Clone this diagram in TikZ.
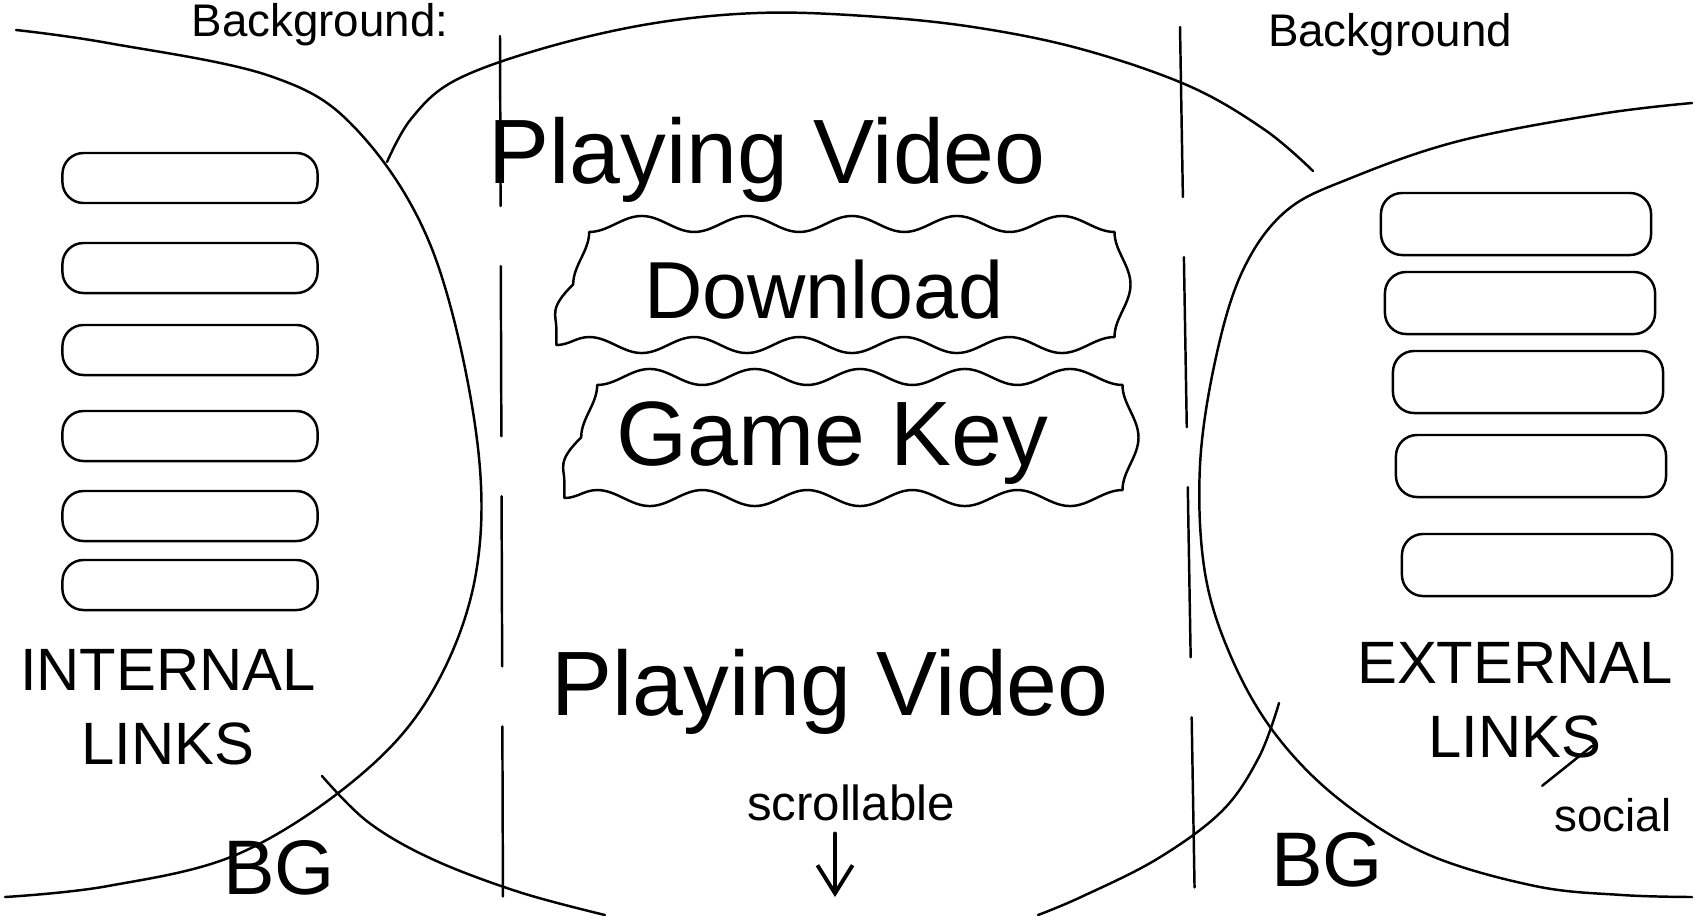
\documentclass[tikz,border=0pt]{standalone}
\usepackage{fontspec}
\setmainfont{Liberation Sans}
\usetikzlibrary{arrows.meta,positioning,decorations.pathmorphing}

\begin{document}
\begin{tikzpicture}[
    x=0.01cm, y=-0.01cm,
    sketch/.style={line width=0.7pt, line join=round, line cap=round},
    divider/.style={sketch, dash pattern=on 1.7cm off 0.6cm},
    linkbar/.style={draw, sketch, rounded corners=6pt, minimum width=2.55cm, minimum height=0.5cm},
    extbar/.style={linkbar, minimum width=2.7cm, minimum height=0.62cm},
    wavybox/.style={draw, sketch, decorate, decoration={snake, amplitude=0.8mm, segment length=1.05cm}, minimum width=5.35cm, minimum height=1.1cm, inner sep=0pt},
    big/.style={font=\fontsize{26}{30}\selectfont},
    mid/.style={font=\fontsize{17}{21}\selectfont, align=center},
    small/.style={font=\fontsize{13}{15}\selectfont},
    arr/.style={-{Straight Barb[length=8pt, width=10pt]}, sketch, line width=1.1pt}
]
\useasboundingbox (0,0) rectangle (1695,915);

% side panels and centre strip
\draw[sketch] plot[smooth, tension=0.6] coordinates {(16,30) (108,43) (270,76) (357,130) (432,249) (476,432) (476,573) (432,692) (357,778) (238,854) (108,886) (5,897)};
\draw[sketch] plot[smooth, tension=0.6] coordinates {(1692,103) (1600,114) (1459,141) (1351,178) (1286,211) (1243,270) (1216,357) (1200,465) (1205,573) (1232,659) (1276,735) (1340,800) (1427,854) (1535,886) (1622,895) (1692,897)};
\draw[sketch] plot[smooth, tension=0.6] coordinates {(387,162) (411,119) (454,81) (541,49) (649,24) (757,13) (865,16) (973,27) (1081,49) (1189,86) (1265,130) (1313,171)};
\draw[sketch] plot[smooth, tension=0.6] coordinates {(322,776) (368,822) (432,859) (519,892) (605,915)};
\draw[sketch] plot[smooth, tension=0.6] coordinates {(1279,703) (1259,757) (1222,811) (1157,859) (1081,897) (1038,915)};
\draw[divider] (500,36) -- (503,915);
\draw[divider] (1180,27) -- (1195,915);

% labels on top
\node[small] (bgleft) at (320,25) {Background:};
\node[small] (bgright) at (1390,35) {Background};

% internal links
\foreach \y/\n in {178/1, 268/2, 350/3, 436/4, 516/5, 585/6}
    \node[linkbar] (int\n) at (190,\y) {};
\node[mid] (intlinks) at (168,707) {INTERNAL\\LINKS};
\node[font=\fontsize{22}{26}\selectfont] (bgl) at (279,868) {BG};

% external links
\foreach \x/\y/\n in {1516/224/1, 1520/303/2, 1528/382/3, 1531/466/4, 1537/565/5}
    \node[extbar] (ext\n) at (\x,\y) {};
\node[mid] (extlinks) at (1515,700) {EXTERNAL\\LINKS};
\node[small] (social) at (1613,815) {social};
\coordinate (slashtop) at (1592,746);
\draw[sketch] (social.north west) -- (slashtop);
\node[font=\fontsize{22}{26}\selectfont] (bgr) at (1327,860) {BG};

% centre
\node[big] (videotop) at (767,160) {Playing Video};
\node[wavybox, font=\fontsize{23}{27}\selectfont] (download) at (824,290) {Download};
\node[wavybox, big] (gamekey) at (832,443) {Game Key};
\node[big] (videobot) at (830,692) {Playing Video};
\node[small, font=\fontsize{14}{16}\selectfont] (scroll) at (851,803) {scrollable};
\coordinate (scrolltip) at (835,897);
\draw[arr] (scroll.south -| scrolltip) -- (scrolltip);
\end{tikzpicture}
\end{document}
